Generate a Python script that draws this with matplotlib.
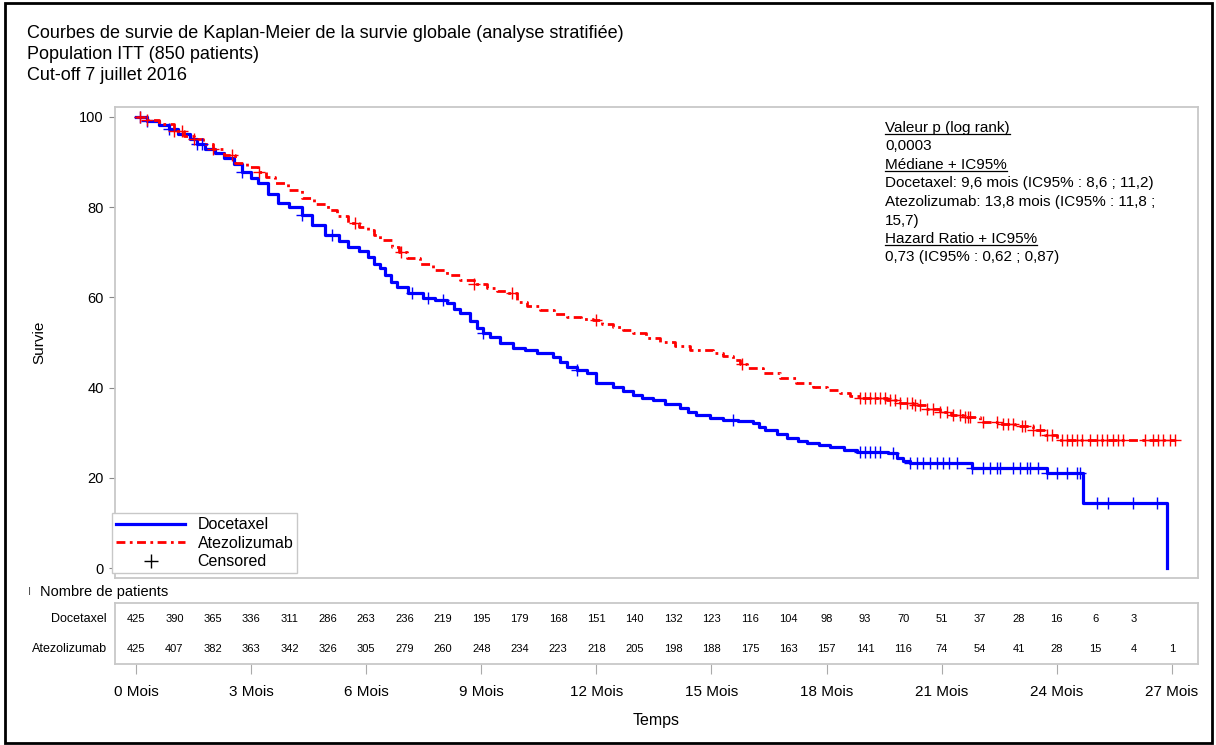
import numpy as np
import matplotlib
matplotlib.use('Agg')
import matplotlib.pyplot as plt
from matplotlib.lines import Line2D
from matplotlib.patches import Rectangle

plt.rcParams['font.family'] = ['Liberation Sans', 'DejaVu Sans']

# Kaplan-Meier step points (months, % survival)
doce_t = [0, 0.3, 0.6, 0.85, 1.1, 1.4, 1.6, 1.8, 2.05, 2.3, 2.55, 2.76, 3.0, 3.18,
          3.45, 3.7, 4.0, 4.33, 4.6, 4.93, 5.3, 5.53, 5.8, 6.05, 6.2, 6.36, 6.49,
          6.65, 6.8, 7.1, 7.48, 7.8, 8.1, 8.3, 8.45, 8.7, 8.9, 9.05, 9.22, 9.5, 9.83,
          10.15, 10.45, 10.87, 11.05, 11.23, 11.5, 11.75, 12.0, 12.43, 12.7, 12.95,
          13.2, 13.47, 13.8, 14.18, 14.4, 14.6, 14.95, 15.3, 15.7, 16.08, 16.25,
          16.4, 16.7, 16.97, 17.25, 17.5, 17.8, 18.1, 18.45, 18.8, 19.6, 19.83,
          20.0, 20.17, 21.8, 23.74, 24.68, 26.87]
doce_s = [100, 99.2, 98.2, 97.3, 96.3, 95, 94, 93, 92, 91, 89.5, 87.8, 86.5, 85.4,
          83, 81, 80, 78.3, 76, 73.8, 72.5, 71.2, 70.2, 69, 67.5, 66.5, 65,
          63.5, 62.3, 61, 59.9, 59.4, 58.8, 57.5, 56.5, 54.8, 53.2, 52.2, 51.2, 50, 48.8,
          48.3, 47.7, 46.8, 45.6, 44.6, 44, 43.2, 41, 40.1, 39.2, 38.4,
          37.8, 37.2, 36.3, 35.5, 34.6, 33.9, 33.3, 32.8, 32.5, 32.1, 31.3,
          30.6, 29.7, 28.8, 28.2, 27.7, 27.2, 26.8, 26.2, 25.7, 25.5, 24.4,
          23.8, 23.3, 22.2, 21.1, 14.4, 0]

atezo_t = [0, 0.3, 0.6, 1.0, 1.25, 1.5, 1.75, 2.0, 2.3, 2.58, 2.9, 3.18, 3.4, 3.62,
           3.95, 4.33, 4.65, 5.0, 5.25, 5.53, 5.8, 6.05, 6.2, 6.36, 6.67, 6.85, 7.06,
           7.4, 7.74, 8.1, 8.44, 8.8, 9.15, 9.4, 9.67, 9.93, 10.2, 10.53, 10.9, 11.23,
           11.6, 11.91, 12.15, 12.43, 12.7, 12.95, 13.3, 13.66, 14.05, 14.44, 15.04,
           15.3, 15.56, 15.75, 15.92, 16.35, 16.78, 17.2, 17.64, 18.0, 18.35, 18.6,
           18.87, 19.57, 19.9, 20.25, 20.6, 20.95, 21.25, 21.55, 22.0, 22.45, 22.9,
           23.38, 23.7, 24.0, 27.08]
atezo_s = [100, 99.3, 98.4, 96.8, 95.8, 95, 94, 93, 91.5, 89.8, 88.8, 87.8, 86.6, 85.4,
           83.7, 82, 80.7, 79.4, 78, 76.5, 75.7, 75, 73.8, 72.7, 71.2, 70, 68.7,
           67.4, 66.1, 65, 63.9, 63, 62.1, 61.5, 61, 59, 58.2, 57.2, 56.4, 55.7,
           55.3, 55, 54.2, 53.4, 52.8, 52.1, 51.1, 50.1, 49.2, 48.3, 47.7,
           46.9, 46.1, 45.2, 44.3, 43.2, 42.1, 41.1, 40.1, 39.5, 38.8, 38.2,
           37.7, 37.2, 36.6, 36.1, 35.3, 34.6, 34, 33.5, 32.4, 32, 31.5,
           30.6, 29.5, 28.4, 28.4]

# censoring times (months)
doce_cens = [0.1, 0.3, 0.85, 1.6, 1.73, 2.77, 4.33, 5.1, 7.2, 7.6, 8.0, 9.05, 11.5,
             15.56, 18.87, 19.0, 19.13, 19.26, 19.39, 19.73, 20.17, 20.35, 20.51,
             20.69, 20.88, 21.03, 21.2, 21.4, 21.8, 22.07, 22.26, 22.44, 22.52, 22.86,
             23.04, 23.22, 23.3, 23.5, 23.74, 24.0, 24.26, 24.52, 24.6, 25.04, 25.33,
             25.98, 26.6]
atezo_cens = [0.1, 0.3, 1.0, 1.2, 1.5, 2.0, 2.5, 3.2, 5.7, 6.9, 8.8, 9.8, 12.0, 15.8,
              18.87, 19.0, 19.13, 19.26, 19.39, 19.52, 19.65, 19.78, 19.91, 20.09,
              20.22, 20.3, 20.43, 20.62, 20.77, 20.95, 21.14, 21.29, 21.47, 21.6,
              21.68, 21.74, 22.07, 22.44, 22.6, 22.73, 22.86, 23.1, 23.17, 23.38,
              23.56, 23.74, 23.87, 24.13, 24.26, 24.39, 24.52, 24.65, 24.86, 25.04,
              25.17, 25.3, 25.46, 25.59, 25.72, 26.3, 26.5, 26.63, 26.76, 26.94, 27.07]

# number at risk, one value per month
risk_months_doce = list(range(0, 27))
risk_doce = [425, 390, 365, 336, 311, 286, 263, 236, 219, 195, 179, 168, 151, 140,
             132, 123, 116, 104, 98, 93, 70, 51, 37, 28, 16, 6, 3]
risk_months_atezo = list(range(0, 28))
risk_atezo = [425, 407, 382, 363, 342, 326, 305, 279, 260, 248, 234, 223, 218, 205,
              198, 188, 175, 163, 157, 141, 116, 74, 54, 41, 28, 15, 4, 1]

xticks = [0, 3, 6, 9, 12, 15, 18, 21, 24, 27]
xtick_labels = [f'{m} Mois' for m in xticks]

title_lines = ['Courbes de survie de Kaplan-Meier de la survie globale (analyse stratifiée)',
               'Population ITT (850 patients)',
               'Cut-off 7 juillet 2016']

annot = [('Valeur p (log rank)', True),
         ('0,0003', False),
         ('Médiane + IC95%', True),
         ('Docetaxel: 9,6 mois (IC95% : 8,6 ; 11,2)', False),
         ('Atezolizumab: 13,8 mois (IC95% : 11,8 ;', False),
         ('15,7)', False),
         ('Hazard Ratio + IC95%', True),
         ('0,73 (IC95% : 0,62 ; 0,87)', False)]

W, H = 1216, 745
fig = plt.figure(figsize=(W / 100, H / 100), dpi=100)


def fx(px):
    return px / W


def fy(py):
    return 1 - py / H


blue = '#0000ff'
red = '#ff0000'
frame_col = '#c8c8c8'
dashdot = (0, (3.2, 1.6, 1.0, 1.6))

# main KM axes
ax = fig.add_axes([fx(115), fy(578), fx(1198 - 115), (578 - 107) / H])
ax.plot(doce_t, doce_s, drawstyle='steps-post', color=blue, lw=2.3, label='Docetaxel')
ax.plot(atezo_t, atezo_s, drawstyle='steps-post', color=red, lw=2.0,
        linestyle=dashdot, label='Atezolizumab')


def km_at(t, s, times):
    idx = np.searchsorted(t, times, side='right') - 1
    return np.asarray(s)[idx]


ax.plot(doce_cens, km_at(doce_t, doce_s, doce_cens), ls='none', marker='+',
        ms=8, mew=1.0, color=blue)
ax.plot(atezo_cens, km_at(atezo_t, atezo_s, atezo_cens), ls='none', marker='+',
        ms=8, mew=1.0, color=red)

ax.set_xlim(-0.547, 27.68)
ax.set_ylim(-2.2, 102.2)
ax.set_yticks([0, 20, 40, 60, 80, 100])
ax.tick_params(axis='y', labelsize=10.5, length=4, color='#888888', pad=4)
ax.set_xticks([])
for sp in ax.spines.values():
    sp.set_color(frame_col)
    sp.set_linewidth(1.3)
ax.set_ylabel('Survie', fontsize=11)
ax.yaxis.set_label_coords((46 - 115) / 1083, 0.5)

handles = [Line2D([], [], color=blue, lw=2.3),
           Line2D([], [], color=red, lw=2.0, linestyle=dashdot),
           Line2D([], [], color='black', ls='none', marker='+', ms=10, mew=1.0)]
leg = ax.legend(handles, ['Docetaxel', 'Atezolizumab', 'Censored'], loc='lower left',
                bbox_to_anchor=(-0.007, 0.0), fontsize=11.5, handlelength=4.3,
                handletextpad=0.8, labelspacing=0.22, borderpad=0.25,
                borderaxespad=0.3, fancybox=False, framealpha=1, edgecolor=frame_col)
leg.get_frame().set_linewidth(1.0)

# number-at-risk table
axr = fig.add_axes([fx(115), fy(664), fx(1198 - 115), (664 - 603) / H])
axr.set_xlim(-0.547, 27.68)
axr.set_ylim(0, 1)
num_font = ['Liberation Sans Narrow', 'Liberation Sans']
for m, n in zip(risk_months_doce, risk_doce):
    axr.text(m, 0.73, str(n), ha='center', va='center', fontsize=8, family=num_font)
for m, n in zip(risk_months_atezo, risk_atezo):
    axr.text(m, 0.25, str(n), ha='center', va='center', fontsize=8, family=num_font)
axr.text(-0.76, 0.73, 'Docetaxel', ha='right', va='center', fontsize=9, clip_on=False)
axr.text(-0.76, 0.25, 'Atezolizumab', ha='right', va='center', fontsize=9, clip_on=False)
axr.set_yticks([])
axr.set_xticks(xticks)
axr.set_xticklabels(xtick_labels)
axr.tick_params(axis='x', labelsize=11, length=7, color='#aaaaaa', pad=8)
for sp in axr.spines.values():
    sp.set_color(frame_col)
    sp.set_linewidth(1.3)
axr.set_xlabel('Temps', fontsize=11.5, labelpad=10)

fig.text(fx(28), fy(592), 'I', fontsize=8, color='#555555', va='center')
fig.text(fx(40), fy(592), 'Nombre de patients', fontsize=10.5, va='center')

# titles
for i, line in enumerate(title_lines):
    fig.text(fx(27), fy(33 + 21.5 * i), line, fontsize=13, va='center')

# statistics block
annot_texts = []
for i, (line, ul) in enumerate(annot):
    t = fig.text(fx(885), fy(128 + 18.5 * i), line, fontsize=11, va='center')
    annot_texts.append((t, ul))

fig.canvas.draw()
inv = fig.transFigure.inverted()
for t, ul in annot_texts:
    if ul:
        bb = t.get_window_extent()
        (x0, y0), (x1, _) = inv.transform([(bb.x0, bb.y0 + 1.5), (bb.x1, bb.y0)])
        fig.add_artist(Line2D([x0, x1], [y0, y0], color='black', lw=0.9))

# outer border
fig.add_artist(Rectangle((0.004, 0.003), 0.993, 0.993, fill=False, ec='black', lw=2,
                         transform=fig.transFigure))

fig.savefig('out.png', dpi=100)
